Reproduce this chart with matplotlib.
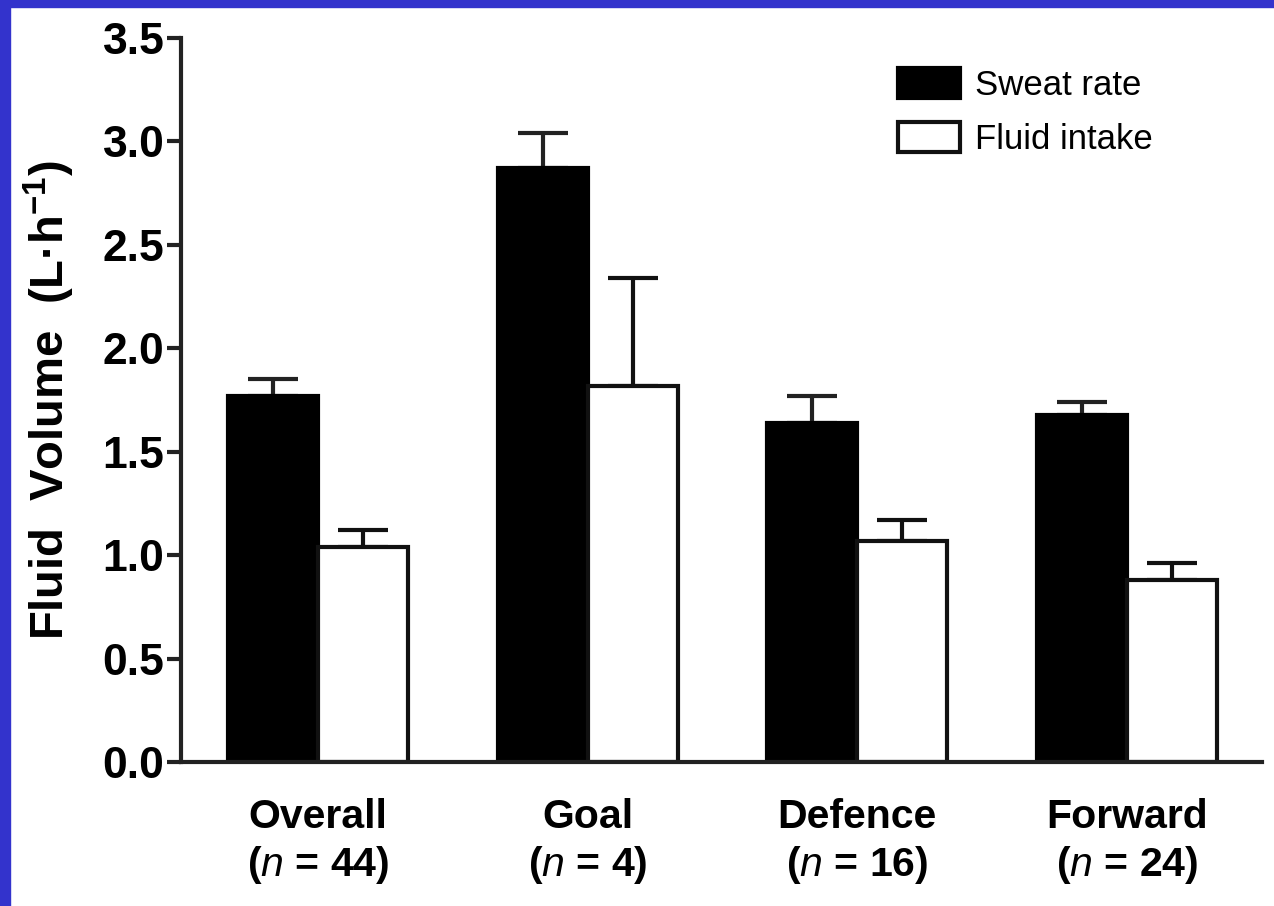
import matplotlib
matplotlib.use('Agg')
import matplotlib.pyplot as plt
import numpy as np
from matplotlib.patches import Rectangle

plt.rcParams['font.family'] = ['Liberation Sans', 'DejaVu Sans']
plt.rcParams['mathtext.fontset'] = 'custom'
plt.rcParams['mathtext.rm'] = 'Liberation Sans:bold'
plt.rcParams['mathtext.it'] = 'Liberation Sans:italic'
plt.rcParams['mathtext.default'] = 'rm'

# ── Dados ─────────────────────────────────────────────────────────────────
grupos = ['Overall', 'Goal', 'Defence', 'Forward']
n_grupo = [44, 4, 16, 24]
sweat_rate = [1.77, 2.87, 1.64, 1.68]
sweat_err = [0.08, 0.17, 0.13, 0.06]
fluid_intake = [1.04, 1.82, 1.07, 0.88]
fluid_err = [0.08, 0.52, 0.10, 0.08]

# ── Figura ────────────────────────────────────────────────────────────────
fig = plt.figure(figsize=(12.74, 9.06), dpi=100)
ax = fig.add_axes([0.1421, 0.1589, 0.8485, 0.7991])

x = np.arange(len(grupos))
w = 1 / 3
ax.bar(x - w / 2, sweat_rate, w, color='black', edgecolor='black',
       linewidth=3, label='Sweat rate', zorder=2)
ax.bar(x + w / 2, fluid_intake, w, color='white', edgecolor='#111111',
       linewidth=3, label='Fluid intake', zorder=2)
ax.errorbar(x - w / 2, sweat_rate, yerr=[np.zeros(4), sweat_err], fmt='none',
            ecolor='#222222', elinewidth=3, capsize=18, capthick=3, zorder=1)
ax.errorbar(x + w / 2, fluid_intake, yerr=[np.zeros(4), fluid_err], fmt='none',
            ecolor='#111111', elinewidth=3, capsize=18, capthick=3, zorder=1)

ax.set_xlim(-0.507, 3.5)
ax.set_ylim(0, 3.5)
ax.set_yticks(np.arange(0, 3.51, 0.5))
ax.set_yticklabels([f'{v:.1f}' for v in np.arange(0, 3.51, 0.5)],
                   fontsize=32, fontweight='bold')
ax.set_xticks(x)
ax.set_xticklabels([f'{g}\n($\\mathit{{n}}$ = {n})' for g, n in zip(grupos, n_grupo)],
                   fontsize=29.5, fontweight='bold', linespacing=1.25)
ax.tick_params(axis='x', length=0, pad=26)
ax.tick_params(axis='y', length=10, width=3, pad=2, color='#222222')
for s in ['top', 'right']:
    ax.spines[s].set_visible(False)
for s in ['left', 'bottom']:
    ax.spines[s].set_linewidth(3)
    ax.spines[s].set_color('#222222')

ax.set_ylabel('Fluid  Volume  (L·h$^{-1}$)', fontsize=34, fontweight='bold',
              labelpad=18)

ax.legend(loc='upper left', bbox_to_anchor=(898 / 1274, 1 - 68 / 906),
          bbox_transform=fig.transFigure, frameon=False, borderpad=0,
          borderaxespad=0, fontsize=25, handlelength=1.8, handleheight=0.95,
          labelspacing=0.58, handletextpad=0.43)

# moldura azul (esquerda e topo)
fig.patches.append(Rectangle((0, 0), 10 / 1274, 1, transform=fig.transFigure,
                             color='#3333cc', zorder=10))
fig.patches.append(Rectangle((0, 1 - 7 / 906), 1, 7 / 906,
                             transform=fig.transFigure, color='#3333cc',
                             zorder=10))

fig.savefig('out.png', dpi=100)
